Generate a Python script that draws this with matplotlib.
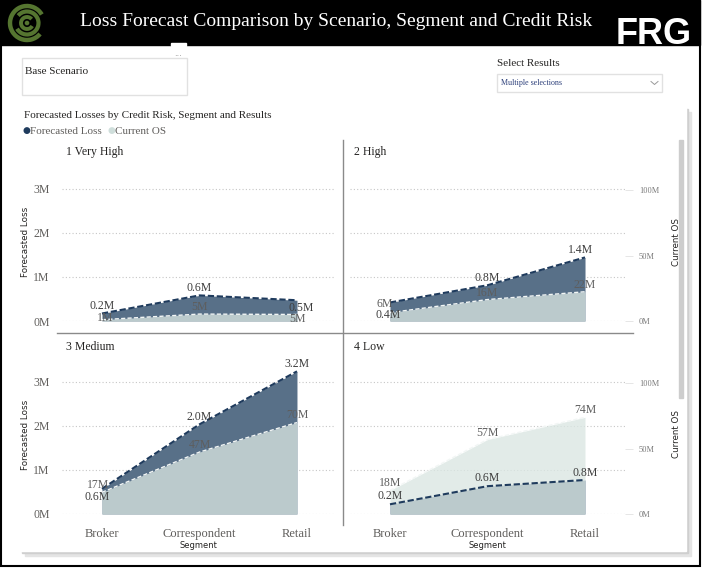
import matplotlib
matplotlib.use('Agg')
import matplotlib.pyplot as plt
from matplotlib.patches import Rectangle, Arc, Circle
import numpy as np

# ---------------- data ----------------
segments = ['Broker', 'Correspondent', 'Retail']
panel_titles = ['1 Very High', '2 High', '3 Medium', '4 Low']

# Forecasted Loss (millions) per credit-risk panel
fl_very_high = [0.17, 0.58, 0.47]
fl_high = [0.42, 0.81, 1.44]
fl_medium = [0.57, 2.03, 3.23]
fl_low = [0.22, 0.63, 0.77]

# Current OS (millions) per credit-risk panel
os_very_high = [1.0, 5.3, 5.0]
os_high = [6.4, 16.4, 22.4]
os_medium = [16.6, 47.4, 70.0]
os_low = [18.0, 57.0, 74.0]

left_ticks = [0, 1, 2, 3]
left_tick_labels = ['0M', '1M', '2M', '3M']
right_ticks = [0, 50, 100]
right_tick_labels = ['0M', '50M', '100M']

# ---------------- layout / style ----------------
W, H = 705, 573
DPI = 100
FL_FILL = '#587088'
FL_LINE = '#1f3b5d'
OS_FILL = '#dae6e2'
OS_LINE = '#f2f6f5'
SERIF = ['Liberation Serif', 'DejaVu Serif']
SANS = ['DejaVu Sans']

# label offsets in pixels (dx, dy) -- default (0, 7)
label_offsets = {
    (0, 'fl', 2): (4, -8), (0, 'os', 0): (3, 2), (0, 'os', 2): (1, -5),
    (1, 'fl', 0): (-2, -13), (1, 'os', 0): (-5, 9), (1, 'fl', 2): (-5, 7),
    (2, 'fl', 0): (-5, -8), (2, 'os', 0): (-4, 7), (2, 'os', 2): (0, 8),
    (3, 'fl', 0): (0, 8), (3, 'fl', 1): (0, 8),
}

fig = plt.figure(figsize=(W / DPI, H / DPI), dpi=DPI)
fig.patch.set_facecolor('white')

# background axes in pixel coordinates for dashboard decoration
bg = fig.add_axes([0, 0, 1, 1])
bg.set_xlim(0, W)
bg.set_ylim(H, 0)
bg.axis('off')

# header
bg.add_patch(Rectangle((0, 0), 700, 45, color='black', zorder=1))
bg.add_patch(Rectangle((1, 0), 699, 566, fill=False, ec='black', lw=1.5, zorder=2))
bg.add_patch(Rectangle((171, 43), 15, 3, color='white', zorder=2))
bg.text(80, 21, 'Loss Forecast Comparison by Scenario, Segment and Credit Risk',
        color='white', fontsize=14, family=SERIF, va='center', ha='left', zorder=3)
bg.text(616, 35, 'FRG', color='white', fontsize=26, fontweight='bold',
        family=['Liberation Sans', 'DejaVu Sans'], va='center', ha='left', zorder=3)
# logo
g = '#557530'
bg.add_patch(Arc((27, 23), 34, 34, theta1=40, theta2=330, color=g, lw=3.2, zorder=3))
bg.add_patch(Arc((27, 23), 23, 23, theta1=220, theta2=510, color=g, lw=3.0, zorder=3))
bg.add_patch(Arc((27, 23), 12, 12, theta1=30, theta2=320, color=g, lw=2.8, zorder=3))
bg.add_patch(Circle((27, 23), 1.6, color=g, zorder=3))

bg.text(178, 53, '...', color='#888888', fontsize=6, ha='center', va='center')

# Base Scenario slicer box
bg.add_patch(Rectangle((22, 58), 165, 37, fill=False, ec='#e1e1e1', lw=1))
bg.text(25, 71, 'Base Scenario', fontsize=8, family=SERIF, color='#252423', va='center')

# Select Results dropdown
bg.text(497, 63, 'Select Results', fontsize=8, family=SERIF, color='#252423', va='center')
bg.add_patch(Rectangle((497, 74), 165, 18, fill=False, ec='#e1e1e1', lw=1))
bg.text(501, 83, 'Multiple selections', fontsize=5.8, family=SERIF, color='#2c3f7a', va='center')
bg.plot([651, 654.5, 658], [81.5, 84.5, 81.5], color='#999999', lw=0.7)

# chart card with shadow
bg.add_patch(Rectangle((25, 112), 666, 444, color='#e4e4e4', zorder=1))
bg.add_patch(Rectangle((22, 109), 666, 444, color='#cfcfcf', zorder=1))
bg.add_patch(Rectangle((20, 107), 666, 444, color='white', zorder=2))
bg.text(24, 115, 'Forecasted Losses by Credit Risk, Segment and Results',
        fontsize=8, family=SERIF, color='#252423', va='center', zorder=3)
bg.text(26, 131, '●', fontsize=6.5, color=FL_LINE, va='center', ha='center', zorder=3)
bg.text(30, 131, 'Forecasted Loss', fontsize=8, family=SERIF, color='#605e5c', va='center', zorder=3)
bg.text(111, 131, '●', fontsize=6.5, color='#cfdedb', va='center', ha='center', zorder=3)
bg.text(115, 131, 'Current OS', fontsize=8, family=SERIF, color='#605e5c', va='center', zorder=3)

# dividers and scrollbar
bg.plot([343, 343], [140, 525], color='#8a8a8a', lw=1, zorder=3)
bg.plot([57, 633], [333, 333], color='#8a8a8a', lw=1, zorder=3)
bg.add_patch(Rectangle((679, 140), 4, 258, color='#cdcdcd', zorder=3))

# panel titles
title_pos = [(66, 152), (354, 152), (66, 347), (354, 347)]
for t, (px, py) in zip(panel_titles, title_pos):
    bg.text(px, py, t, fontsize=8.5, family=SERIF, color='#252423', va='center', zorder=3)

# ---------------- chart panels ----------------
fl_data = [fl_very_high, fl_high, fl_medium, fl_low]
os_data = [os_very_high, os_high, os_medium, os_low]
# axes rectangles in pixels: (left, top, width, height)
rects = [(62, 162, 273, 159), (350, 162, 275, 159), (62, 355, 273, 159), (350, 355, 275, 159)]
xlims = [(-0.41, 2.39), (-0.41, 2.41), (-0.41, 2.39), (-0.41, 2.41)]
LEFT_MAX = 3.6
RIGHT_MAX = LEFT_MAX * 33.8

x = np.arange(len(segments))
for i in range(4):
    l, t, w, h = rects[i]
    ax = fig.add_axes([l / W, 1 - (t + h) / H, w / W, h / H])
    ax.patch.set_visible(False)
    ax2 = ax.twinx()
    ax2.patch.set_visible(False)
    ax.set_xlim(*xlims[i])
    ax.set_ylim(0, LEFT_MAX)
    ax2.set_ylim(0, RIGHT_MAX)
    for a in (ax, ax2):
        for s in a.spines.values():
            s.set_visible(False)

    ax.set_axisbelow(True)
    ax.set_yticks(left_ticks)
    ax.yaxis.grid(True, ls=(0, (1, 2)), color='#c6c6c6', lw=0.8)
    ax.tick_params(axis='y', length=0, pad=9, labelsize=8.5, labelcolor='#605e5c')
    if i % 2 == 0:
        ax.set_yticklabels(left_tick_labels, family=SERIF)
        ax.set_ylabel('Forecasted Loss', fontsize=6.3, family=SANS, color='#252423')
        ax.yaxis.set_label_coords(-0.117, 0.5)
    else:
        ax.set_yticklabels([])

    fl = fl_data[i]
    osv = os_data[i]
    ax.fill_between(x, 0, fl, color=FL_FILL, lw=0)
    ax2.fill_between(x, 0, osv, color=OS_FILL, alpha=0.77, lw=0)
    ax2.plot(x, osv, color=OS_LINE, ls=(0, (3, 1.6)), lw=1.0)
    ax2.plot(x, fl, transform=ax.transData, color=FL_LINE, ls=(0, (3, 1.3)), lw=1.5)

    ax2.set_yticks(right_ticks)
    if i % 2 == 1:
        ax2.set_yticklabels(right_tick_labels, family=SERIF)
        ax2.tick_params(axis='y', length=6, width=0.6, color='#e2e2e2', pad=4,
                        labelsize=6, labelcolor='#7a7a7a')
        ax2.set_ylabel('Current OS', fontsize=6.3, family=SANS, color='#252423', rotation=90)
        ax2.yaxis.set_label_coords(1.17, 0.5)
    else:
        ax2.set_yticklabels([])
        ax2.tick_params(axis='y', length=0)

    ax.set_xticks(x)
    if i >= 2:
        ax.set_xticklabels(segments, family=SERIF)
        ax.tick_params(axis='x', length=0, pad=10, labelsize=9, labelcolor='#605e5c')
        ax.set_xlabel('Segment', fontsize=6, family=SANS, color='#252423', labelpad=1)
    else:
        ax.set_xticklabels([])
        ax.tick_params(axis='x', length=0)

    # data labels
    for j in range(len(segments)):
        dx, dy = label_offsets.get((i, 'fl', j), (0, 7))
        ax2.annotate(f'{fl[j]:.1f}M', xy=(x[j], fl[j]), xycoords=ax.transData,
                     xytext=(dx, dy), textcoords='offset pixels', ha='center', va='center',
                     fontsize=8.5, family=SERIF, color='#3e3e3e', zorder=5)
        dx, dy = label_offsets.get((i, 'os', j), (0, 7))
        ax2.annotate(f'{osv[j]:.0f}M', xy=(x[j], osv[j]), xytext=(dx, dy),
                     textcoords='offset pixels', ha='center', va='center',
                     fontsize=8.5, family=SERIF, color='#5e5e5e', zorder=5)

fig.savefig('out.png', dpi=DPI, facecolor='white')
